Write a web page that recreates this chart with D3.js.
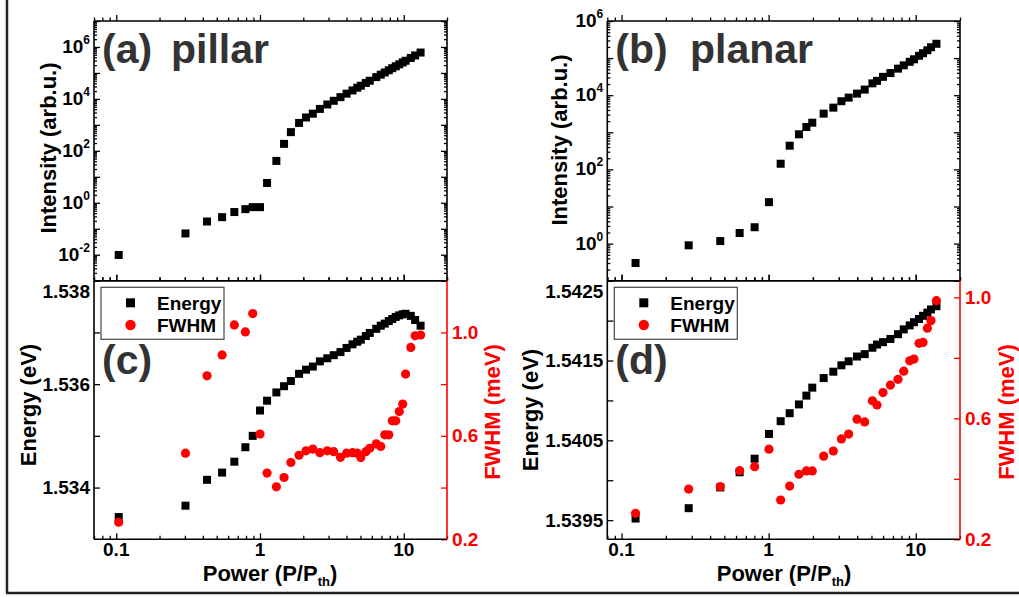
<!DOCTYPE html>
<html>
<head>
<meta charset="utf-8">
<script src="https://cdn.jsdelivr.net/npm/d3@7"></script>
<style>
  body { margin: 0; background: #fff; }
  svg text { font-family: "Liberation Sans", Arial, Helvetica, sans-serif; font-weight: bold; }
</style>
</head>
<body>
<svg id="chart" width="1019" height="598"></svg>
<script>
// ---- Pillar sample: power series (P/Pth) ----
const powerPillar = [0.104, 0.303, 0.428, 0.545, 0.663, 0.791, 0.890, 1.00, 1.12, 1.30, 1.47, 1.64,
  1.87, 2.09, 2.33, 2.61, 2.94, 3.26, 3.63, 4.00, 4.40, 4.75, 5.03, 5.45, 5.80, 6.44, 6.92, 7.38,
  7.87, 8.32, 8.80, 9.31, 9.84, 10.3, 11.2, 12.0, 13.1];
const intensityPillar = [0.0098, 0.066, 0.19, 0.28, 0.44, 0.57, 0.68, 0.68, 5.8, 41, 186, 525,
  1190, 1930, 2700, 4120, 6100, 8450, 11700, 15900, 21200, 27000, 32200, 41200, 50100, 68900,
  86000, 104500, 127000, 152000, 180000, 214000, 254000, 295000, 378000, 471000, 610000];
const energyPillar = [1.53343, 1.53365, 1.53415, 1.53429, 1.53450, 1.53478, 1.53500, 1.53549,
  1.53568, 1.53584, 1.53596, 1.53606, 1.53620, 1.53628, 1.53634, 1.53644, 1.53650, 1.53656,
  1.53662, 1.53670, 1.53677, 1.53682, 1.53686, 1.53693, 1.53699, 1.53707, 1.53713, 1.53717,
  1.53722, 1.53726, 1.53730, 1.53733, 1.53735, 1.53736, 1.53732, 1.53724, 1.53713];
const fwhmPillar = [0.266, 0.533, 0.832, 0.913, 1.029, 1.002, 1.073, 0.607, 0.456, 0.403, 0.439,
  0.497, 0.525, 0.542, 0.549, 0.535, 0.542, 0.539, 0.517, 0.533, 0.535, 0.533, 0.516, 0.539,
  0.552, 0.569, 0.559, 0.604, 0.604, 0.658, 0.658, 0.694, 0.723, 0.839, 0.942, 0.987, 0.990];

// ---- Planar sample ----
const powerPlanar = [0.1245, 0.286, 0.469, 0.635, 0.803, 1.005, 1.207, 1.39, 1.607, 1.805, 1.98,
  2.366, 2.754, 3.124, 3.50, 3.989, 4.50, 5.075, 5.455, 5.99, 6.73, 7.58, 8.29, 9.10, 9.73,
  10.53, 11.21, 12.0, 12.7, 13.83];
const intensityPlanar = [0.30, 0.90, 1.17, 1.93, 2.76, 13.1, 142, 435, 883, 1390, 1816, 3180,
  4620, 6880, 8610, 11040, 14160, 20840, 24330, 31240, 39550, 52000, 63850, 79400, 92900,
  115400, 134900, 162600, 196000, 243300];
const energyPlanar = [1.53952, 1.53965, 1.53991, 1.54010, 1.54027, 1.54058, 1.54074, 1.54084,
  1.54095, 1.54106, 1.54116, 1.54128, 1.54136, 1.54144, 1.54149, 1.54155, 1.54158, 1.54166,
  1.54170, 1.54173, 1.54177, 1.54183, 1.54189, 1.54194, 1.54198, 1.54202, 1.54206, 1.54210,
  1.54214, 1.54218];
const fwhmPlanar = [0.286, 0.366, 0.374, 0.427, 0.440, 0.498, 0.330, 0.376, 0.415, 0.426, 0.426,
  0.475, 0.492, 0.532, 0.548, 0.597, 0.588, 0.658, 0.644, 0.685, 0.710, 0.729, 0.756, 0.790,
  0.796, 0.848, 0.851, 0.898, 0.923, 0.989];

// ---- Tick labels ----
const powerTickLabels = [0.1, 1, 10];
const intensityExpPillar = [-2, 0, 2, 4, 6];
const intensityExpPlanar = [0, 2, 4, 6];
const energyTicksPillar = [1.534, 1.535, 1.536, 1.537, 1.538];
const energyLabelsPillar = [1.534, 1.536, 1.538];
const energyTicksPlanar = [1.5395, 1.5400, 1.5405, 1.5410, 1.5415, 1.5420, 1.5425];
const energyLabelsPlanar = [1.5395, 1.5405, 1.5415, 1.5425];
const fwhmTicks = [0.2, 0.4, 0.6, 0.8, 1.0];
const fwhmLabels = [0.2, 0.6, 1.0];

const svg = d3.select("#chart");
const RED = "#ff0000";

// figure border
svg.append("line").attr("x1", 7).attr("y1", 0).attr("x2", 7).attr("y2", 593)
  .attr("stroke", "#222").attr("stroke-width", 2.5);
svg.append("line").attr("x1", 6).attr("y1", 593).attr("x2", 1019).attr("y2", 593)
  .attr("stroke", "#222").attr("stroke-width", 2.5);

const TOP = 21, MID = 280.7, BOT = 539.3;

function logTicks(domain) {
  const out = [];
  for (let e = Math.floor(Math.log10(domain[0])); e <= Math.ceil(Math.log10(domain[1])); e++) {
    for (let k = 1; k < 10; k++) {
      const v = k * Math.pow(10, e);
      if (v >= domain[0] * 0.999 && v <= domain[1] * 1.001) out.push(v);
    }
  }
  return out;
}
const isDecade = v => Math.abs(Math.log10(v) - Math.round(Math.log10(v))) < 1e-6;

function tickSet(axisFn, scale, values, size, color, transform) {
  const g = svg.append("g").attr("transform", transform)
    .call(axisFn(scale).tickValues(values).tickSize(size).tickFormat(""));
  g.select(".domain").remove();
  g.selectAll(".tick line").attr("stroke", color).attr("stroke-width", 1.3);
}

function logXTicks(x, yPos, dir, axisFn) {
  const all = logTicks(x.domain());
  tickSet(axisFn, x, all.filter(isDecade), -6 * dir, "#000", `translate(0,${yPos})`);
  tickSet(axisFn, x, all.filter(v => !isDecade(v)), -3.5 * dir, "#000", `translate(0,${yPos})`);
}

function frame(x0, x1, y0, y1, rightColor) {
  const g = svg.append("g");
  g.append("line").attr("x1", x0).attr("x2", x1).attr("y1", y0).attr("y2", y0).attr("stroke", "#000").attr("stroke-width", 1.6);
  g.append("line").attr("x1", x0).attr("x2", x1).attr("y1", y1).attr("y2", y1).attr("stroke", "#000").attr("stroke-width", 1.6);
  g.append("line").attr("x1", x0).attr("x2", x0).attr("y1", y0).attr("y2", y1).attr("stroke", "#000").attr("stroke-width", 1.6);
  g.append("line").attr("x1", x1).attr("x2", x1).attr("y1", y0).attr("y2", y1).attr("stroke", rightColor).attr("stroke-width", 1.6);
}

function intensityPanel(cfg) {
  const { x, y, L, R, exps, label, tag, word, wordX, power, intensity } = cfg;
  // ticks on all four sides
  const yAll = logTicks(y.domain());
  tickSet(d3.axisLeft, y, yAll.filter(isDecade), -6, "#000", `translate(${L},0)`);
  tickSet(d3.axisLeft, y, yAll.filter(v => !isDecade(v)), -3, "#000", `translate(${L},0)`);
  tickSet(d3.axisRight, y, yAll.filter(isDecade), -6, "#000", `translate(${R},0)`);
  tickSet(d3.axisRight, y, yAll.filter(v => !isDecade(v)), -3, "#000", `translate(${R},0)`);
  logXTicks(x, TOP, -1, d3.axisTop);
  logXTicks(x, MID, 1, d3.axisBottom);
  frame(L, R, TOP, MID, "#000");

  // decade labels 10^n
  exps.forEach(e => {
    const t = svg.append("text").attr("x", L - 4).attr("y", y(Math.pow(10, e)) + 6)
      .attr("text-anchor", "end").attr("font-size", 19).attr("fill", "#000");
    t.append("tspan").text("10");
    t.append("tspan").attr("dy", -9).attr("font-size", 12).text(e);
  });

  svg.append("text").attr("transform", `translate(${cfg.titleX},${cfg.titleY}) rotate(-90)`)
    .attr("text-anchor", "middle").attr("font-size", 22).text(label);

  svg.append("g").selectAll("rect").data(power).join("rect")
    .attr("x", (d) => x(d) - 4).attr("y", (d, i) => y(intensity[i]) - 4)
    .attr("width", 8).attr("height", 8).attr("fill", "#000");

  svg.append("text").attr("x", L + 8).attr("y", 63).attr("font-size", 41).attr("fill", "#333").text(tag);
  svg.append("text").attr("x", wordX).attr("y", 63).attr("font-size", 41).attr("fill", "#333").text(word);
}

function energyPanel(cfg) {
  const { x, yE, yF, L, R, eTicks, eLabels, eFmt, tag, power, energy, fwhm } = cfg;
  tickSet(d3.axisLeft, yE, eTicks, -6, "#000", `translate(${L},0)`);
  tickSet(d3.axisRight, yF, fwhmTicks, -6, RED, `translate(${R},0)`);
  logXTicks(x, MID, -1, d3.axisTop);
  logXTicks(x, BOT, 1, d3.axisBottom);
  frame(L, R, MID, BOT, RED);

  eLabels.forEach(v => {
    svg.append("text").attr("x", L - 4).attr("y", Math.max(yE(v), MID + 11) + 6.5)
      .attr("text-anchor", "end").attr("font-size", 19).text(eFmt(v));
  });
  fwhmLabels.forEach(v => {
    svg.append("text").attr("x", R + 5).attr("y", yF(v) + 6.5)
      .attr("font-size", 19).attr("fill", RED).text(d3.format(".1f")(v));
  });
  powerTickLabels.forEach(v => {
    svg.append("text").attr("x", x(v)).attr("y", 556)
      .attr("text-anchor", "middle").attr("font-size", 19).text(v);
  });

  // axis titles
  const xt = svg.append("text").attr("x", cfg.xTitleX).attr("y", 581)
    .attr("text-anchor", "middle").attr("font-size", 22);
  xt.append("tspan").text("Power (P/P");
  xt.append("tspan").attr("font-size", 13).attr("dy", 5).text("th");
  xt.append("tspan").attr("dy", -5).text(")");

  svg.append("text").attr("transform", `translate(${cfg.eTitleX},${cfg.eTitleY}) rotate(-90)`)
    .attr("text-anchor", "middle").attr("font-size", 22).text("Energy (eV)");
  svg.append("text").attr("transform", `translate(${cfg.fTitleX},412) rotate(-90)`)
    .attr("text-anchor", "middle").attr("font-size", 22).attr("fill", RED).text("FWHM (meV)");

  svg.append("g").selectAll("rect").data(power).join("rect")
    .attr("x", d => x(d) - 4).attr("y", (d, i) => yE(energy[i]) - 4)
    .attr("width", 8).attr("height", 8).attr("fill", "#000");
  svg.append("g").selectAll("circle").data(power).join("circle")
    .attr("cx", d => x(d)).attr("cy", (d, i) => yF(fwhm[i])).attr("r", 4.6).attr("fill", RED);

  // legend
  const lg = svg.append("g").attr("transform", `translate(${L + 7},287.3)`);
  lg.append("rect").attr("x", 0).attr("y", 0).attr("width", 123).attr("height", 52)
    .attr("fill", "#fff").attr("stroke", "#444").attr("stroke-width", 1.2);
  lg.append("rect").attr("x", 25).attr("y", 11).attr("width", 9).attr("height", 9).attr("fill", "#000");
  lg.append("circle").attr("cx", 29.5).attr("cy", 37.7).attr("r", 5.2).attr("fill", RED);
  lg.append("text").attr("x", 56).attr("y", 22.5).attr("font-size", 19).text("Energy");
  lg.append("text").attr("x", 56).attr("y", 44.5).attr("font-size", 19).text("FWHM");

  svg.append("text").attr("x", L + 8).attr("y", 374).attr("font-size", 41).attr("fill", "#333").text(tag);
}

// ---- scales ----
const xA = d3.scaleLog().domain([0.07, 20]).range([94, 447]);
const xB = d3.scaleLog().domain([0.08, 20]).range([607.3, 960]);
const yA = d3.scaleLog().domain([1e-3, 1e7]).range([MID, TOP]);
const yB = d3.scaleLog().domain([0.1, 1e6]).range([MID, TOP]);
const yEc = d3.scaleLinear().domain([1.533, 1.538]).range([BOT, MID]);
const yFc = d3.scaleLinear().domain([0.2, 1.2]).range([BOT, MID]);
const yEd = d3.scaleLinear().domain([1.53926, 1.5425]).range([BOT, MID]);
const yFd = d3.scaleLinear().domain([0.2, 1.055]).range([BOT, MID]);

intensityPanel({ x: xA, y: yA, L: 94, R: 447, exps: intensityExpPillar, label: "Intensity (arb.u.)",
  tag: "(a)", word: "pillar", wordX: 171, titleX: 56, titleY: 148,
  power: powerPillar, intensity: intensityPillar });
intensityPanel({ x: xB, y: yB, L: 607.3, R: 960, exps: intensityExpPlanar, label: "Intensity (arb.u.)",
  tag: "(b)", word: "planar", wordX: 690, titleX: 567, titleY: 140,
  power: powerPlanar, intensity: intensityPlanar });

energyPanel({ x: xA, yE: yEc, yF: yFc, L: 94, R: 447, eTicks: energyTicksPillar,
  eLabels: energyLabelsPillar, eFmt: d3.format(".3f"), tag: "(c)", xTitleX: 270,
  eTitleX: 36, eTitleY: 405, fTitleX: 500, power: powerPillar, energy: energyPillar, fwhm: fwhmPillar });
energyPanel({ x: xB, yE: yEd, yF: yFd, L: 607.3, R: 960, eTicks: energyTicksPlanar,
  eLabels: energyLabelsPlanar, eFmt: d3.format(".4f"), tag: "(d)", xTitleX: 784,
  eTitleX: 538, eTitleY: 410, fTitleX: 1014, power: powerPlanar, energy: energyPlanar, fwhm: fwhmPlanar });
</script>
</body>
</html>
